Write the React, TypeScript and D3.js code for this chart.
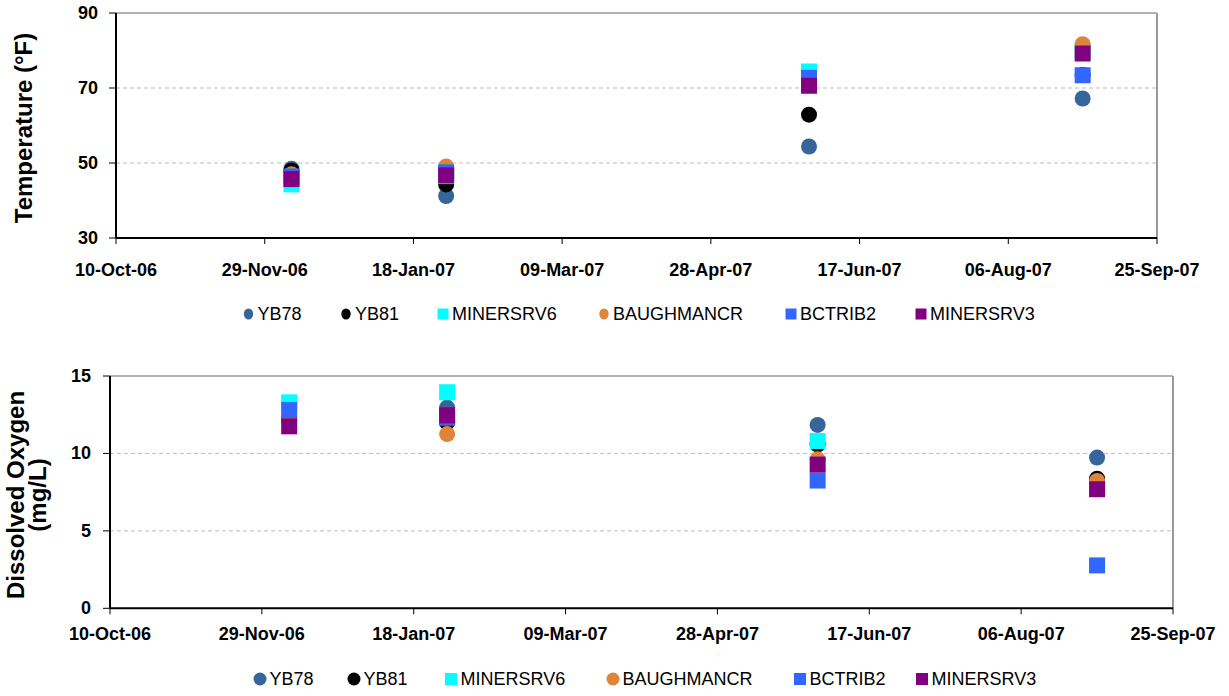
import React from "react";
import * as d3 from "d3";

// ---------- data ----------
const series = ["YB78", "YB81", "MINERSRV6", "BAUGHMANCR", "BCTRIB2", "MINERSRV3"];
const seriesColors = ["#37649A", "#000000", "#00FFFF", "#DE853B", "#3366FF", "#800080"];
const seriesShapes = ["circle", "circle", "square", "circle", "square", "square"];

const sampleDates = ["2006-12-08", "2007-01-29", "2007-05-31", "2007-08-31"];

const tempYB78 = [48.5, 41.2, 54.4, 67.2];
const tempYB81 = [48.0, 44.3, 62.9, 73.5];
const tempMINERSRV6 = [44.3, 46.5, 74.4, 80.0];
const tempBAUGHMANCR = [47.0, 49.1, 71.5, 81.7];
const tempBCTRIB2 = [46.4, 47.5, 72.7, 73.4];
const tempMINERSRV3 = [45.7, 46.7, 70.6, 79.2];

const doYB78 = [12.3, 12.96, 11.84, 9.73];
const doYB81 = [12.1, 12.0, 10.57, 8.37];
const doMINERSRV6 = [13.3, 13.95, 10.8, 7.7];
const doBAUGHMANCR = [12.2, 11.25, 9.62, 8.22];
const doBCTRIB2 = [12.8, 12.3, 8.25, 2.77];
const doMINERSRV3 = [11.75, 12.46, 9.28, 7.69];

const xTickDates = [
  "2006-10-10", "2006-11-29", "2007-01-18", "2007-03-09",
  "2007-04-28", "2007-06-17", "2007-08-06", "2007-09-25",
];
const xTickLabels = [
  "10-Oct-06", "29-Nov-06", "18-Jan-07", "09-Mar-07",
  "28-Apr-07", "17-Jun-07", "06-Aug-07", "25-Sep-07",
];
const tempTicks = [30, 50, 70, 90];
const doTicks = [0, 5, 10, 15];

const tempValues = [tempYB78, tempYB81, tempMINERSRV6, tempBAUGHMANCR, tempBCTRIB2, tempMINERSRV3];
const doValues = [doYB78, doYB81, doMINERSRV6, doBAUGHMANCR, doBCTRIB2, doMINERSRV3];

const parse = d3.utcParse("%Y-%m-%d");
const FONT = "'Liberation Sans', Arial, Helvetica, sans-serif";

type PanelProps = {
  xRange: [number, number];
  yRange: [number, number];
  yTicks: number[];
  values: number[][];
  titleLines: { text: string; x: number }[];
  titleY: number;
  yLabelX: number;
  xLabelY: number;
  legendY: number;
  legendMarkerX: number[];
  legendTextOffset: number;
  legendCircle: [number, number];
  legendSquare: number;
};

function Panel(p: PanelProps) {
  const x = d3
    .scaleUtc()
    .domain([parse(xTickDates[0])!, parse(xTickDates[xTickDates.length - 1])!])
    .range(p.xRange);
  const y = d3
    .scaleLinear()
    .domain([p.yTicks[0], p.yTicks[p.yTicks.length - 1]])
    .range(p.yRange);
  const [x0, x1] = p.xRange;
  const [yb, yt] = p.yRange;
  const ms = 16;

  return (
    <g>
      {/* gridlines */}
      {p.yTicks.slice(1, -1).map((t) => (
        <line key={"g" + t} x1={x0} x2={x1} y1={y(t)} y2={y(t)} stroke="#BDBDBD" strokeWidth={1} strokeDasharray="4 3" />
      ))}
      {/* plot border top / right */}
      <line x1={x0} x2={x1} y1={yt} y2={yt} stroke="#999" strokeWidth={1.5} />
      <line x1={x1} x2={x1} y1={yt} y2={yb} stroke="#999" strokeWidth={2} />
      {/* points */}
      {p.values.map((vals, si) =>
        vals.map((v, i) => {
          const cx = x(parse(sampleDates[i])!);
          const cy = y(v);
          return seriesShapes[si] === "circle" ? (
            <circle key={si + "-" + i} cx={cx} cy={cy} r={ms / 2} fill={seriesColors[si]} />
          ) : (
            <rect key={si + "-" + i} x={cx - ms / 2} y={cy - ms / 2} width={ms} height={ms} fill={seriesColors[si]} />
          );
        })
      )}
      {/* axes */}
      <line x1={x0} x2={x0} y1={yt} y2={yb} stroke="#000" strokeWidth={2} />
      <line x1={x0} x2={x1} y1={yb} y2={yb} stroke="#000" strokeWidth={2} />
      {p.yTicks.map((t) => (
        <g key={"y" + t}>
          <line x1={x0 - 7} x2={x0} y1={y(t)} y2={y(t)} stroke="#000" strokeWidth={1} />
          <text x={p.yLabelX} y={y(t)} textAnchor="end" dominantBaseline="central" fontFamily={FONT} fontWeight="bold" fontSize={18}>
            {t}
          </text>
        </g>
      ))}
      {xTickDates.map((d, i) => {
        const tx = x(parse(d)!);
        return (
          <g key={"x" + d}>
            <line x1={tx} x2={tx} y1={yb} y2={yb + 6} stroke="#000" strokeWidth={1} />
            <text x={tx} y={p.xLabelY} textAnchor="middle" fontFamily={FONT} fontWeight="bold" fontSize={18}>
              {xTickLabels[i]}
            </text>
          </g>
        );
      })}
      {/* y title */}
      {p.titleLines.map((l) => (
        <text
          key={l.text}
          transform={`translate(${l.x},${p.titleY}) rotate(-90)`}
          textAnchor="middle"
          fontFamily={FONT}
          fontWeight="bold"
          fontSize={24}
        >
          {l.text}
        </text>
      ))}
      {/* legend */}
      {series.map((s, si) => {
        const mx = p.legendMarkerX[si];
        return (
          <g key={"l" + s}>
            {seriesShapes[si] === "circle" ? (
              <ellipse cx={mx} cy={p.legendY} rx={p.legendCircle[0]} ry={p.legendCircle[1]} fill={seriesColors[si]} />
            ) : (
              <rect
                x={mx - p.legendSquare / 2}
                y={p.legendY - p.legendSquare / 2}
                width={p.legendSquare}
                height={p.legendSquare}
                fill={seriesColors[si]}
              />
            )}
            <text x={mx + p.legendTextOffset} y={p.legendY} dominantBaseline="central" fontFamily={FONT} fontSize={18}>
              {s}
            </text>
          </g>
        );
      })}
    </g>
  );
}

export default function App() {
  return (
    <svg
      width={1229}
      height={696}
      style={{ position: "absolute", left: 0, top: 0, background: "#fff" }}
    >
      <rect width={1229} height={696} fill="#fff" />
      <Panel
        xRange={[116, 1157]}
        yRange={[238, 13]}
        yTicks={tempTicks}
        values={tempValues}
        titleLines={[{ text: "Temperature (°F)", x: 32 }]}
        titleY={128}
        yLabelX={98}
        xLabelY={276}
        legendY={314}
        legendMarkerX={[248.5, 346, 443, 604, 791, 921]}
        legendTextOffset={9}
        legendCircle={[4.7, 5.5]}
        legendSquare={11}
      />
      <Panel
        xRange={[110, 1173]}
        yRange={[608.3, 376]}
        yTicks={doTicks}
        values={doValues}
        titleLines={[
          { text: "Dissolved Oxygen", x: 24 },
          { text: "(mg/L)", x: 46 },
        ]}
        titleY={495}
        yLabelX={91}
        xLabelY={640}
        legendY={679}
        legendMarkerX={[260, 354, 451, 613, 800, 922]}
        legendTextOffset={9.5}
        legendCircle={[6.5, 6.5]}
        legendSquare={12}
      />
    </svg>
  );
}
